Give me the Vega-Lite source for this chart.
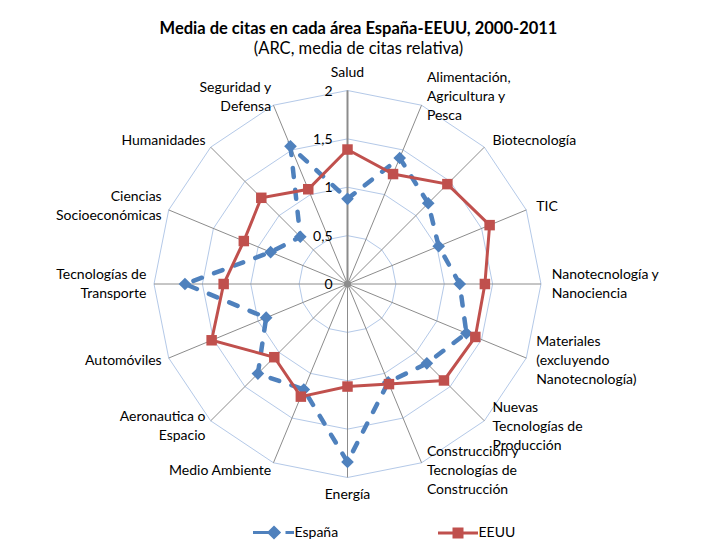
{
  "$schema": "https://vega.github.io/schema/vega-lite/v6.json",
  "width": 387,
  "height": 387,
  "autosize": {"type": "none"},
  "padding": {"left": 154, "top": 90.5, "right": 163, "bottom": 82.5},
  "background": "white",
  "title": {
    "text": "Media de citas en cada área España-EEUU, 2000-2011",
    "subtitle": "(ARC, media de citas relativa)",
    "anchor": "middle",
    "dx": 11,
    "offset": 8,
    "font": "Lato",
    "fontSize": 16.5,
    "fontWeight": "bold",
    "color": "#000000",
    "subtitleFont": "Lato",
    "subtitleFontSize": 16.5,
    "subtitleColor": "#000000",
    "subtitlePadding": 4
  },
  "config": {
    "view": {"stroke": null},
    "font": "Lato",
    "legend": {
      "symbolSize": 100,
      "symbolStrokeWidth": 3,
      "labelOffset": 13.5,
      "columnPadding": 93,
      "labelFont": "Lato",
      "labelFontSize": 14,
      "labelColor": "#000000"
    }
  },
  "datasets": {
    "areas": [
      {"i": 0, "label": "Salud", "espana": 0.88, "eeuu": 1.39},
      {"i": 1, "label": "Alimentación,\nAgricultura y\nPesca", "espana": 1.41, "eeuu": 1.23},
      {"i": 2, "label": "Biotecnología", "espana": 1.18, "eeuu": 1.46},
      {"i": 3, "label": "TIC", "espana": 1.02, "eeuu": 1.59},
      {"i": 4, "label": "Nanotecnología y\nNanociencia", "espana": 1.16, "eeuu": 1.42},
      {"i": 5, "label": "Materiales\n(excluyendo\nNanotecnología)", "espana": 1.33, "eeuu": 1.43},
      {"i": 6, "label": "Nuevas\nTecnologías de\nProducción", "espana": 1.16, "eeuu": 1.41},
      {"i": 7, "label": "Construcción y\nTecnologías de\nConstrucción", "espana": 1.10, "eeuu": 1.12},
      {"i": 8, "label": "Energía", "espana": 1.84, "eeuu": 1.06},
      {"i": 9, "label": "Medio Ambiente", "espana": 1.18, "eeuu": 1.26},
      {"i": 10, "label": "Aeronautica o\nEspacio", "espana": 1.31, "eeuu": 1.07},
      {"i": 11, "label": "Automóviles", "espana": 0.91, "eeuu": 1.52},
      {"i": 12, "label": "Tecnologías de\nTransporte", "espana": 1.68, "eeuu": 1.28},
      {"i": 13, "label": "Ciencias\nSocioeconómicas", "espana": 0.86, "eeuu": 1.16},
      {"i": 14, "label": "Humanidades", "espana": 0.69, "eeuu": 1.26},
      {"i": 15, "label": "Seguridad y\nDefensa", "espana": 1.54, "eeuu": 1.06}
    ],
    "rings": [
      {"level": 0, "label": "0", "i": [0,1,2,3,4,5,6,7,8,9,10,11,12,13,14,15]},
      {"level": 0.5, "label": "0,5", "i": [0,1,2,3,4,5,6,7,8,9,10,11,12,13,14,15]},
      {"level": 1, "label": "1", "i": [0,1,2,3,4,5,6,7,8,9,10,11,12,13,14,15]},
      {"level": 1.5, "label": "1,5", "i": [0,1,2,3,4,5,6,7,8,9,10,11,12,13,14,15]},
      {"level": 2, "label": "2", "i": [0,1,2,3,4,5,6,7,8,9,10,11,12,13,14,15]}
    ]
  },
  "layer": [
    {
      "data": {"name": "rings"},
      "transform": [
        {"flatten": ["i"]},
        {"calculate": "datum.i*PI/8", "as": "ang"},
        {"calculate": "datum.level*sin(datum.ang)", "as": "gx"},
        {"calculate": "datum.level*cos(datum.ang)", "as": "gy"}
      ],
      "mark": {"type": "line", "interpolate": "linear-closed", "color": "#b4c9e8", "strokeWidth": 1},
      "encoding": {
        "x": {"field": "gx", "type": "quantitative", "scale": {"domain": [-2, 2], "nice": false, "zero": false}, "axis": null},
        "y": {"field": "gy", "type": "quantitative", "scale": {"domain": [-2, 2], "nice": false, "zero": false}, "axis": null},
        "detail": {"field": "level", "type": "nominal"},
        "order": {"field": "i", "type": "quantitative"}
      }
    },
    {
      "data": {"name": "areas"},
      "transform": [
        {"calculate": "datum.i*PI/8", "as": "ang"},
        {"calculate": "0*datum.i", "as": "cx"},
        {"calculate": "2*sin(datum.ang)", "as": "sx"},
        {"calculate": "2*cos(datum.ang)", "as": "sy"}
      ],
      "mark": {"type": "rule", "color": "#8c8c8c", "strokeWidth": 1},
      "encoding": {
        "x": {"field": "cx", "type": "quantitative"},
        "y": {"field": "cx", "type": "quantitative"},
        "x2": {"field": "sx"},
        "y2": {"field": "sy"}
      }
    },
    {
      "data": {"name": "areas"},
      "transform": [
        {"filter": "datum.i == 0"},
        {"calculate": "0*datum.i", "as": "cx"},
        {"calculate": "2+0*datum.i", "as": "top"}
      ],
      "layer": [
        {
          "mark": {"type": "rule", "color": "#8c8c8c", "strokeWidth": 2},
          "encoding": {
            "x": {"field": "cx", "type": "quantitative"},
            "y": {"field": "cx", "type": "quantitative"},
            "y2": {"field": "top"}
          }
        },
        {
          "mark": {"type": "point", "filled": true, "color": "#8c8c8c", "size": 50, "opacity": 1},
          "encoding": {
            "x": {"field": "cx", "type": "quantitative"},
            "y": {"field": "cx", "type": "quantitative"}
          }
        }
      ]
    },
    {
      "data": {"name": "rings"},
      "transform": [{"flatten": ["i"]}, {"filter": "datum.i == 0"}, {"calculate": "0*datum.i", "as": "cx"}],
      "mark": {"type": "text", "align": "right", "baseline": "middle", "dx": -15, "dy": 1, "fontSize": 14, "font": "Lato", "color": "#000000"},
      "encoding": {
        "x": {"field": "cx", "type": "quantitative"},
        "y": {"field": "level", "type": "quantitative"},
        "text": {"field": "label", "type": "nominal"}
      }
    },
    {
      "data": {"name": "areas"},
      "transform": [
        {"calculate": "datum.i*PI/8", "as": "ang"},
        {"calculate": "datum.espana*sin(datum.ang)", "as": "ex"},
        {"calculate": "datum.espana*cos(datum.ang)", "as": "ey"},
        {"calculate": "datum.eeuu*sin(datum.ang)", "as": "ux"},
        {"calculate": "datum.eeuu*cos(datum.ang)", "as": "uy"},
        {"calculate": "2*sin(datum.ang)", "as": "sx"},
        {"calculate": "2*cos(datum.ang)", "as": "sy"},
        {"calculate": "2.09*sin(datum.ang)", "as": "lx"},
        {"calculate": "2.09*cos(datum.ang)", "as": "ly"}
      ],
      "layer": [
        {
          "mark": {"type": "line", "interpolate": "linear-closed", "color": "#4f81bd", "strokeWidth": 4.5, "strokeDash": [9, 13], "strokeCap": "round"},
          "encoding": {
            "x": {"field": "ex", "type": "quantitative"},
            "y": {"field": "ey", "type": "quantitative"},
            "order": {"field": "i", "type": "quantitative"}
          }
        },
        {
          "mark": {"type": "point", "shape": "diamond", "filled": true, "color": "#4f81bd", "size": 160, "opacity": 1},
          "encoding": {
            "x": {"field": "ex", "type": "quantitative"},
            "y": {"field": "ey", "type": "quantitative"}
          }
        },
        {
          "mark": {"type": "line", "interpolate": "linear-closed", "color": "#c0504d", "strokeWidth": 3},
          "encoding": {
            "x": {"field": "ux", "type": "quantitative"},
            "y": {"field": "uy", "type": "quantitative"},
            "order": {"field": "i", "type": "quantitative"}
          }
        },
        {
          "mark": {"type": "point", "shape": "square", "filled": true, "color": "#c0504d", "size": 110, "opacity": 1},
          "encoding": {
            "x": {"field": "ux", "type": "quantitative"},
            "y": {"field": "uy", "type": "quantitative"}
          }
        },
        {
          "transform": [{"filter": "indexof([2,3], datum.i) >= 0"}],
          "mark": {"type": "text", "align": "left", "baseline": "middle", "dx": 2, "lineBreak": "\n", "lineHeight": 19, "fontSize": 14, "font": "Lato", "color": "#000000"},
          "encoding": {
            "x": {"field": "lx", "type": "quantitative"},
            "y": {"field": "ly", "type": "quantitative"},
            "text": {"field": "label", "type": "nominal"}
          }
        },
        {
          "transform": [{"filter": "indexof([4], datum.i) >= 0"}],
          "mark": {"type": "text", "align": "left", "baseline": "middle", "dx": 2, "dy": -9.5, "lineBreak": "\n", "lineHeight": 19, "fontSize": 14, "font": "Lato", "color": "#000000"},
          "encoding": {
            "x": {"field": "lx", "type": "quantitative"},
            "y": {"field": "ly", "type": "quantitative"},
            "text": {"field": "label", "type": "nominal"}
          }
        },
        {
          "transform": [{"filter": "indexof([1,5,6,7], datum.i) >= 0"}],
          "mark": {"type": "text", "align": "left", "baseline": "middle", "dx": 2, "dy": -19, "lineBreak": "\n", "lineHeight": 19, "fontSize": 14, "font": "Lato", "color": "#000000"},
          "encoding": {
            "x": {"field": "lx", "type": "quantitative"},
            "y": {"field": "ly", "type": "quantitative"},
            "text": {"field": "label", "type": "nominal"}
          }
        },
        {
          "transform": [{"filter": "indexof([9,11,14], datum.i) >= 0"}],
          "mark": {"type": "text", "align": "right", "baseline": "middle", "dx": 1, "lineBreak": "\n", "lineHeight": 19, "fontSize": 14, "font": "Lato", "color": "#000000"},
          "encoding": {
            "x": {"field": "lx", "type": "quantitative"},
            "y": {"field": "ly", "type": "quantitative"},
            "text": {"field": "label", "type": "nominal"}
          }
        },
        {
          "transform": [{"filter": "indexof([10,12,13,15], datum.i) >= 0"}],
          "mark": {"type": "text", "align": "right", "baseline": "middle", "dx": 1, "dy": -9.5, "lineBreak": "\n", "lineHeight": 19, "fontSize": 14, "font": "Lato", "color": "#000000"},
          "encoding": {
            "x": {"field": "lx", "type": "quantitative"},
            "y": {"field": "ly", "type": "quantitative"},
            "text": {"field": "label", "type": "nominal"}
          }
        },
        {
          "transform": [{"filter": "datum.i == 0"}],
          "mark": {"type": "text", "align": "center", "baseline": "bottom", "dy": -11, "fontSize": 14, "font": "Lato", "color": "#000000"},
          "encoding": {
            "x": {"field": "sx", "type": "quantitative"},
            "y": {"field": "sy", "type": "quantitative"},
            "text": {"field": "label", "type": "nominal"}
          }
        },
        {
          "transform": [{"filter": "datum.i == 8"}],
          "mark": {"type": "text", "align": "center", "baseline": "top", "dy": 10, "fontSize": 14, "font": "Lato", "color": "#000000"},
          "encoding": {
            "x": {"field": "sx", "type": "quantitative"},
            "y": {"field": "sy", "type": "quantitative"},
            "text": {"field": "label", "type": "nominal"}
          }
        },
        {
          "transform": [{"fold": ["espana", "eeuu"], "as": ["serie", "valor"]}, {"filter": "false"}],
          "mark": {"type": "point", "filled": true, "opacity": 1, "strokeWidth": 3},
          "encoding": {
            "x": {"field": "valor", "type": "quantitative"},
            "y": {"field": "valor", "type": "quantitative"},
            "fill": {
              "field": "serie", "type": "nominal",
              "scale": {"domain": ["España", "EEUU"], "range": ["#4f81bd", "#c0504d"]},
              "legend": {"title": null, "orient": "none", "legendX": 113, "legendY": 435, "direction": "horizontal"}
            },
            "stroke": {
              "field": "serie", "type": "nominal",
              "scale": {"domain": ["España", "EEUU"], "range": ["#4f81bd", "#c0504d"]},
              "legend": {"title": null, "orient": "none", "legendX": 113, "legendY": 435, "direction": "horizontal"}
            },
            "shape": {
              "field": "serie", "type": "nominal",
              "scale": {"domain": ["España", "EEUU"], "range": ["M-4.2,0L-0.6,0M0,-1L1,0L0,1L-1,0ZM2.3,0L4,0", "M-4,0L4,0M-0.8,-0.8L0.8,-0.8L0.8,0.8L-0.8,0.8Z"]},
              "legend": {"title": null, "orient": "none", "legendX": 113, "legendY": 435, "direction": "horizontal"}
            }
          }
        }
      ]
    }
  ]
}
